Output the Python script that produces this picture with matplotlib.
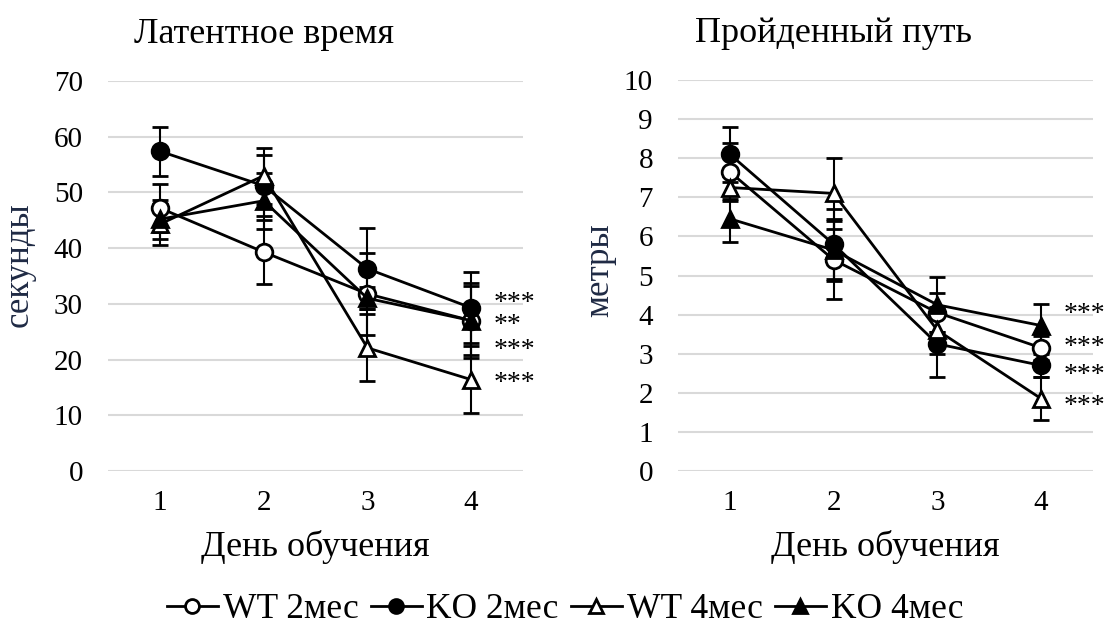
import matplotlib.pyplot as plt
from matplotlib.lines import Line2D
import numpy as np

plt.rcParams['font.family'] = ['Liberation Serif', 'DejaVu Serif']

days = [1, 2, 3, 4]
series_names = ['WT 2мес', 'KO 2мес', 'WT 4мес', 'KO 4мес']

# latency, seconds
lat_wt2 = [47.2, 39.3, 31.8, 27.0]
lat_ko2 = [57.4, 51.2, 36.3, 29.3]
lat_wt4 = [44.3, 53.0, 22.1, 16.4]
lat_ko4 = [45.2, 48.5, 31.0, 27.0]
lat_wt2_err = [4.3, 5.7, 7.3, 6.8]
lat_ko2_err = [4.4, 5.5, 7.3, 6.4]
lat_wt4_err = [3.7, 5.0, 6.0, 6.0]
lat_ko4_err = [3.5, 5.0, 2.0, 6.2]

# distance, meters
dist_wt2 = [7.65, 5.4, 4.05, 3.15]
dist_ko2 = [8.1, 5.8, 3.25, 2.7]
dist_wt4 = [7.25, 7.1, 3.6, 1.85]
dist_ko4 = [6.45, 5.65, 4.25, 3.72]
dist_wt2_err = [0.75, 1.0, 0.5, 0.3]
dist_ko2_err = [0.7, 0.9, 0.85, 0.3]
dist_wt4_err = [0.3, 0.9, 0.6, 0.55]
dist_ko4_err = [0.6, 0.8, 0.7, 0.55]

# significance marks at day 4
lat_stars = ['***', '**', '***', '***']
lat_star_y = [30.0, 26.2, 21.6, 15.7]
dist_stars = ['***', '***', '***', '***']
dist_star_y = [4.0, 3.15, 2.45, 1.65]

markers = ['o', 'o', '^', '^']
faces = ['white', 'black', 'white', 'black']

fig = plt.figure(figsize=(11.06, 6.41), dpi=100)
ax1 = fig.add_axes([108 / 1106, 1 - 471 / 641, 415 / 1106, 390 / 641])
ax2 = fig.add_axes([678 / 1106, 1 - 471 / 641, 415 / 1106, 391 / 641])


def draw(ax, values, errors, ymax, ystep, title, ylabel, ylab_x, ylab_y, stars, star_y):
    for vals, errs, m, fc in zip(values, errors, markers, faces):
        ax.errorbar(days, vals, yerr=errs, color='black', lw=2, marker=m,
                    markersize=12, markerfacecolor=fc, markeredgecolor='black',
                    markeredgewidth=2, capsize=6, elinewidth=1.5, capthick=1.5,
                    zorder=3)
    ax.set_xlim(0.5, 4.5)
    ax.set_ylim(0, ymax)
    ax.set_xticks(days)
    ax.set_yticks(np.arange(0, ymax + ystep / 2, ystep))
    ax.grid(axis='y', color='#d9d9d9', lw=1.5, zorder=0)
    ax.set_axisbelow(True)
    for s in ax.spines.values():
        s.set_visible(False)
    ax.tick_params(length=0, labelsize=21)
    ax.tick_params(axis='y', pad=18)
    ax.tick_params(axis='x', pad=14)
    ax.text(0.375, 1.12, title, transform=ax.transAxes, fontsize=26,
            ha='center', va='center')
    ax.set_xlabel('День обучения', fontsize=26, labelpad=10)
    ax.set_ylabel(ylabel, fontsize=25, color='#1f2a44')
    ax.yaxis.set_label_coords(ylab_x, ylab_y)
    for s, y in zip(stars, star_y):
        ax.text(4.22, y, s, fontsize=20, ha='left', va='center', clip_on=False)


draw(ax1, [lat_wt2, lat_ko2, lat_wt4, lat_ko4],
     [lat_wt2_err, lat_ko2_err, lat_wt4_err, lat_ko4_err],
     70, 10, 'Латентное время', 'секунды', (36 - 108) / 415, (471 - 265) / 390,
     lat_stars, lat_star_y)
draw(ax2, [dist_wt2, dist_ko2, dist_wt4, dist_ko4],
     [dist_wt2_err, dist_ko2_err, dist_wt4_err, dist_ko4_err],
     10, 1, 'Пройденный путь', 'метры', (616 - 678) / 415, (471 - 270) / 391,
     dist_stars, dist_star_y)

handles = [Line2D([], [], color='black', lw=2, marker=m, markersize=10,
                  markerfacecolor=fc, markeredgecolor='black', markeredgewidth=2)
           for m, fc in zip(markers, faces)]
fig.legend(handles, series_names, loc='center', bbox_to_anchor=(565 / 1106, 1 - 610 / 641),
           ncol=4, frameon=False, fontsize=25.5, handlelength=1.44, handletextpad=0.14,
           columnspacing=0.34, borderpad=0, borderaxespad=0)

fig.savefig('out.png', dpi=100)
